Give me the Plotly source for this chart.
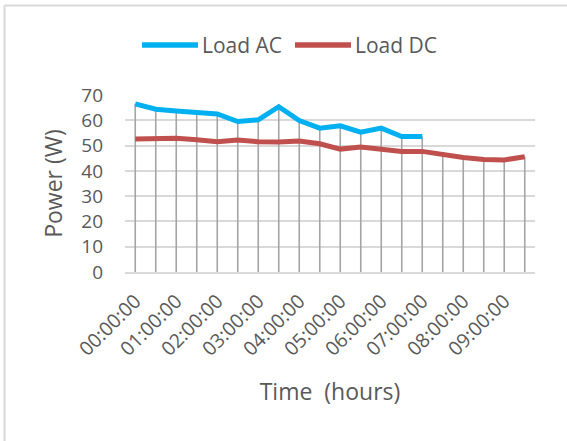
import plotly.graph_objects as go

# Half-hourly sample times
times = [f"{h:02d}:{m:02d}:00" for h in range(10) for m in (0, 30)]
hour_labels = times[::2]

load_ac = [66.5, 64.4, 63.7, 63.0, 62.5, 59.5, 60.2, 65.4, 59.9, 56.9,
           57.8, 55.3, 56.9, 53.6, 53.6, None, None, None, None, None]
load_dc = [52.6, 52.6, 52.9, 52.3, 51.5, 52.2, 51.5, 51.4, 51.8, 50.7,
           48.6, 49.4, 48.6, 47.7, 47.7, 46.4, 45.3, 44.5, 44.3, 45.6]

series_names = ["Load AC", "Load DC"]
series_colors = ["#00B0F0", "#C0504D"]

FONT = "Open Sans"
TEXT = "#595959"

W, H = 567, 441
L, R, T, B = 125, 32, 95, 169
PW, PH = W - L - R, H - T - B


def px(x):
    """pixel x -> plot-area paper x"""
    return (x - L) / PW


def py(y):
    """pixel y -> plot-area paper y"""
    return (H - B - y) / PH


# Drop lines: from the highest series value at each time down to zero
drop_x, drop_y = [], []
for t, a, d in zip(times, load_ac, load_dc):
    top = max(v for v in (a, d) if v is not None)
    drop_x += [t, t, None]
    drop_y += [top, 0, None]

fig = go.Figure()
fig.add_trace(go.Scatter(
    x=drop_x, y=drop_y, mode="lines",
    line=dict(color="#A5A5A5", width=1.6),
    showlegend=False, hoverinfo="skip",
))
for name, vals, col in zip(series_names, [load_ac, load_dc], series_colors):
    fig.add_trace(go.Scatter(
        x=times, y=vals, name=name, mode="lines",
        line=dict(color=col, width=5), connectgaps=False, showlegend=False,
    ))

# frame (top and left edges visible)
shapes = [
    dict(type="line", xref="paper", yref="paper",
         x0=px(4.5), x1=px(600), y0=py(5.5), y1=py(5.5),
         line=dict(color="#D9D9D9", width=2)),
    dict(type="line", xref="paper", yref="paper",
         x0=px(4.5), x1=px(4.5), y0=py(460), y1=py(5.5),
         line=dict(color="#D9D9D9", width=2)),
]
annotations = []

# legend drawn as line samples plus labels
legend_starts = [142, 295]
for name, col, x0 in zip(series_names, series_colors, legend_starts):
    shapes.append(dict(type="line", xref="paper", yref="paper",
                       x0=px(x0), x1=px(x0 + 56), y0=py(45), y1=py(45),
                       line=dict(color=col, width=5.5)))
    annotations.append(dict(text=name, xref="paper", yref="paper",
                            x=px(x0 + 58), y=py(45), xanchor="left",
                            yanchor="middle", showarrow=False,
                            font=dict(size=21, color=TEXT, family=FONT)))

fig.update_layout(
    width=W, height=H,
    margin=dict(l=L, r=R, t=T, b=B, autoexpand=False),
    paper_bgcolor="white", plot_bgcolor="white",
    font=dict(family=FONT, color=TEXT, size=19),
    showlegend=False,
    xaxis=dict(
        type="category", categoryorder="array", categoryarray=times,
        range=[-0.5, len(times) - 0.5],
        tickmode="array", tickvals=hour_labels, ticktext=hour_labels,
        tickangle=-45, tickfont=dict(size=19.5, color=TEXT),
        showgrid=False, zeroline=False,
        showline=True, linecolor="#D9D9D9", linewidth=2,
        ticks="", ticklabelstandoff=8,
        title=dict(text="Time  (hours)", font=dict(size=23, color=TEXT), standoff=24),
    ),
    yaxis=dict(
        range=[0, 70], tickvals=list(range(0, 71, 10)),
        tickfont=dict(size=19, color=TEXT),
        showgrid=True, gridcolor="#D9D9D9", gridwidth=1.5,
        zeroline=False, showline=False, ticks="", ticklabelstandoff=21,
        title=dict(text="Power (W)", font=dict(size=23, color=TEXT), standoff=12),
    ),
    shapes=shapes,
    annotations=annotations,
)

fig.write_html("out.html")
